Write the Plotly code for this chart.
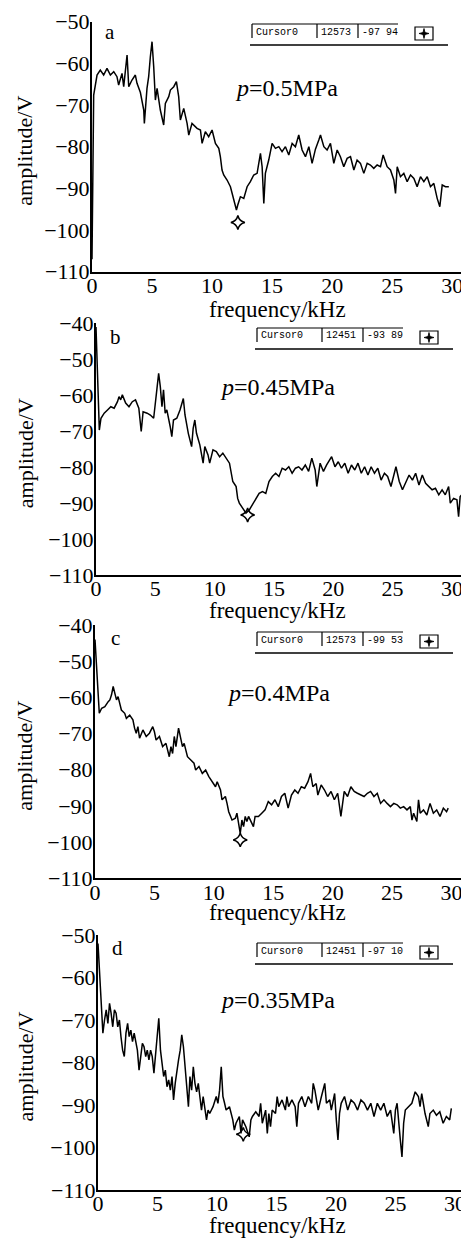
import plotly.graph_objects as go

# the page body has an 8px margin, so the figure is drawn 8px smaller and every
# pixel position read off the reference is shifted by that margin
PAGE_W, PAGE_H = 469, 1238
OFF = 8
W, H = PAGE_W - OFF, PAGE_H - OFF

# ---- data (frequency in kHz, amplitude in V) ----
freq_a = [0.0, 0.14, 0.42, 0.69, 0.97, 1.25, 1.53, 1.81, 2.08, 2.22, 2.50, 2.64, 2.92, 3.06, 3.33, 3.61, 3.75,
          4.03, 4.31, 4.36, 4.58, 4.72, 4.86, 5.00, 5.14, 5.28, 5.42, 5.69, 5.97, 6.11, 6.39, 6.53, 6.81,
          7.03, 7.22, 7.36, 7.64, 7.92, 8.06, 8.33, 8.75, 9.03, 9.17, 9.44, 9.72, 10.00, 10.28, 10.56,
          10.69, 10.83, 10.97, 11.25, 11.53, 11.81, 12.03, 12.14, 12.36, 12.64, 12.92, 13.19, 13.47,
          13.75, 13.89, 14.03, 14.17, 14.31, 14.44, 14.72, 15.00, 15.28, 15.56, 15.83, 16.11, 16.39,
          16.67, 16.94, 17.22, 17.50, 17.78, 18.06, 18.33, 18.61, 18.89, 19.03, 19.31, 19.58, 19.86,
          20.14, 20.42, 20.69, 20.97, 21.25, 21.53, 21.81, 22.08, 22.36, 22.64, 22.92, 23.19, 23.47,
          23.75, 24.03, 24.25, 24.58, 24.86, 25.14, 25.28, 25.42, 25.69, 25.97, 26.25, 26.53, 26.81,
          27.08, 27.36, 27.64, 27.92, 28.19, 28.47, 28.75, 28.97, 29.17, 29.44, 29.72]
amp_a = [-107.0, -67.6, -62.8, -61.6, -62.8, -61.2, -62.8, -62.0, -63.2, -65.2, -62.4, -65.6, -58.0, -65.6,
         -64.0, -62.8, -64.8, -67.0, -71.2, -74.4, -66.0, -63.2, -58.4, -54.8, -60.8, -68.8, -66.0,
         -71.2, -74.8, -69.6, -68.0, -66.4, -65.6, -64.4, -68.0, -73.6, -70.8, -74.4, -77.2, -74.4,
         -75.6, -76.0, -79.2, -76.4, -77.6, -76.0, -79.2, -80.4, -82.4, -85.6, -86.8, -88.0, -89.6,
         -92.8, -95.2, -94.0, -92.0, -92.4, -89.6, -88.4, -86.8, -86.4, -84.0, -81.6, -84.8, -93.6,
         -86.4, -83.2, -79.2, -80.4, -80.0, -81.2, -80.0, -82.0, -79.2, -80.0, -77.2, -80.8, -82.4,
         -80.0, -84.0, -80.6, -78.4, -77.2, -80.0, -80.8, -79.2, -84.0, -80.8, -82.4, -84.8, -82.8,
         -82.4, -85.6, -83.2, -84.0, -86.4, -84.0, -84.4, -85.2, -84.4, -84.8, -82.0, -84.8, -85.6,
         -88.0, -91.2, -84.8, -87.2, -86.4, -88.4, -86.8, -87.6, -89.6, -87.2, -88.4, -87.2, -89.6,
         -88.8, -92.4, -94.4, -89.2, -89.6, -89.6]

freq_b = [0.0, 0.28, 0.42, 0.69, 0.97, 1.25, 1.53, 1.81, 1.94, 2.08, 2.22, 2.50, 2.78, 3.06, 3.33, 3.61, 3.81,
          3.97, 4.31, 4.58, 4.86, 5.00, 5.14, 5.28, 5.42, 5.56, 5.69, 5.83, 5.97, 6.25, 6.39, 6.53,
          6.81, 7.08, 7.36, 7.50, 7.78, 8.06, 8.19, 8.33, 8.47, 8.75, 8.89, 9.03, 9.17, 9.44, 9.58,
          9.86, 10.14, 10.42, 10.69, 10.97, 11.25, 11.53, 11.81, 11.94, 12.08, 12.36, 12.64, 12.92,
          13.19, 13.47, 13.75, 14.03, 14.31, 14.58, 14.86, 15.14, 15.42, 15.69, 15.97, 16.25, 16.53,
          16.81, 17.08, 17.36, 17.64, 17.92, 18.19, 18.47, 18.61, 18.89, 19.17, 19.44, 19.86, 20.14,
          20.42, 20.69, 20.97, 21.25, 21.53, 21.81, 22.08, 22.36, 22.64, 22.92, 23.19, 23.47, 23.75,
          24.03, 24.31, 24.58, 24.86, 25.28, 25.56, 25.83, 26.11, 26.39, 26.67, 26.94, 27.22, 27.50,
          27.78, 28.06, 28.33, 28.61, 28.89, 29.17, 29.44, 29.72, 29.86, 30.14, 30.42, 30.56, 30.69,
          30.83]
amp_b = [-41.0, -69.7, -66.4, -65.0, -64.1, -63.2, -63.6, -61.8, -60.4, -61.3, -59.9, -62.2, -63.2, -61.8,
         -61.3, -63.6, -70.1, -64.6, -65.0, -65.5, -66.4, -61.3, -58.1, -53.9, -57.6, -63.2, -58.5,
         -65.0, -64.1, -68.7, -71.5, -66.9, -66.4, -64.1, -60.9, -65.5, -70.6, -74.3, -69.2, -66.9,
         -70.6, -73.8, -77.1, -78.9, -74.3, -76.6, -78.9, -75.2, -75.7, -77.1, -76.1, -77.5, -78.9,
         -84.0, -85.4, -88.7, -90.0, -91.4, -92.8, -91.9, -90.5, -88.7, -87.3, -86.8, -87.3, -84.0,
         -82.6, -81.7, -82.6, -80.3, -80.8, -79.9, -81.7, -80.3, -79.9, -80.8, -79.4, -81.2, -77.5,
         -80.8, -85.4, -78.9, -81.2, -79.4, -77.1, -79.9, -78.5, -80.3, -78.9, -81.7, -79.4, -80.8,
         -78.9, -81.7, -79.9, -82.2, -79.9, -81.7, -80.3, -83.6, -81.7, -82.6, -85.4, -79.9, -84.0,
         -86.3, -84.0, -82.2, -83.6, -81.7, -85.0, -82.2, -84.5, -85.4, -86.3, -85.9, -87.7, -86.3,
         -87.7, -85.4, -90.0, -88.7, -89.1, -93.8, -88.2, -87.7]

freq_c = [0.0, 0.36, 0.56, 0.83, 1.11, 1.25, 1.39, 1.53, 1.67, 1.81, 1.94, 2.08, 2.22, 2.50, 2.64, 2.92, 3.19,
          3.33, 3.47, 3.61, 3.75, 4.03, 4.31, 4.58, 4.86, 5.00, 5.14, 5.42, 5.69, 5.97, 6.25, 6.39,
          6.53, 6.67, 6.81, 7.03, 7.22, 7.36, 7.50, 7.78, 8.06, 8.33, 8.47, 8.75, 9.03, 9.31, 9.58,
          9.86, 10.14, 10.28, 10.56, 10.69, 10.97, 11.11, 11.25, 11.53, 11.81, 11.94, 12.08, 12.22,
          12.36, 12.50, 12.64, 12.78, 12.92, 13.19, 13.33, 13.47, 13.75, 14.03, 14.31, 14.58, 14.86,
          15.14, 15.42, 15.69, 15.97, 16.25, 16.53, 16.81, 17.08, 17.36, 17.64, 17.92, 18.14, 18.33,
          18.61, 18.75, 19.03, 19.31, 19.58, 19.86, 20.14, 20.42, 20.69, 20.97, 21.25, 21.53, 21.81,
          22.08, 22.36, 22.64, 22.92, 23.19, 23.47, 23.75, 24.03, 24.31, 24.58, 24.86, 25.14, 25.42,
          25.69, 25.97, 26.25, 26.53, 26.67, 26.81, 27.08, 27.22, 27.36, 27.64, 27.92, 28.19, 28.47,
          28.75, 29.03, 29.31, 29.58, 29.72]
amp_c = [-44.0, -64.4, -63.0, -62.6, -61.2, -60.7, -59.3, -57.0, -58.9, -60.7, -59.8, -62.1, -63.5, -64.4,
         -65.8, -64.9, -66.2, -68.5, -69.9, -68.1, -71.3, -69.0, -70.8, -69.9, -68.1, -69.5, -71.8,
         -70.8, -73.6, -72.7, -76.4, -73.6, -75.5, -70.8, -73.6, -68.5, -71.8, -73.6, -72.7, -76.4,
         -77.3, -78.2, -80.1, -79.1, -81.0, -80.1, -81.9, -83.3, -84.7, -83.3, -85.6, -88.3, -87.4,
         -89.3, -91.6, -93.9, -93.4, -92.0, -94.8, -97.6, -93.9, -95.7, -92.9, -94.3, -92.9, -94.8,
         -95.7, -92.9, -92.9, -92.0, -91.1, -88.8, -89.7, -88.3, -90.2, -87.4, -86.5, -90.6, -87.0,
         -85.6, -86.5, -84.7, -85.1, -83.3, -81.0, -84.7, -83.8, -87.0, -84.2, -85.6, -87.4, -86.0,
         -88.3, -86.5, -92.9, -86.0, -87.4, -84.7, -86.0, -86.5, -87.0, -87.4, -86.5, -86.0, -87.4,
         -86.5, -89.3, -88.3, -89.3, -90.2, -89.3, -89.7, -90.6, -90.2, -91.1, -90.2, -93.9, -92.0,
         -94.3, -88.3, -92.0, -91.1, -92.5, -89.3, -92.0, -91.1, -92.9, -90.6, -91.6, -90.6]

freq_d = [0.0, 0.41, 0.55, 0.69, 0.83, 0.97, 1.10, 1.24, 1.38, 1.52, 1.66, 1.80, 1.93, 2.07, 2.21, 2.35, 2.49,
          2.62, 2.76, 2.90, 3.04, 3.18, 3.31, 3.45, 3.59, 3.73, 3.87, 4.01, 4.14, 4.28, 4.42, 4.56,
          4.70, 4.83, 4.97, 5.11, 5.25, 5.39, 5.52, 5.66, 5.80, 5.94, 6.08, 6.22, 6.35, 6.49, 6.63,
          6.77, 6.91, 7.04, 7.18, 7.32, 7.46, 7.60, 7.73, 7.87, 8.01, 8.15, 8.29, 8.43, 8.56, 8.70,
          8.84, 8.98, 9.12, 9.25, 9.39, 9.67, 9.94, 10.08, 10.22, 10.36, 10.50, 10.64, 10.77, 11.05,
          11.33, 11.46, 11.60, 11.88, 12.02, 12.15, 12.43, 12.71, 12.85, 12.98, 13.26, 13.54, 13.67,
          13.81, 14.09, 14.23, 14.36, 14.50, 14.64, 14.92, 15.06, 15.19, 15.47, 15.75, 15.88, 16.02,
          16.30, 16.57, 16.71, 16.85, 17.13, 17.40, 17.68, 17.96, 18.09, 18.23, 18.51, 18.78, 19.06,
          19.20, 19.48, 19.61, 19.89, 20.03, 20.17, 20.30, 20.44, 20.72, 20.99, 21.27, 21.55, 21.82,
          22.10, 22.38, 22.65, 22.93, 23.20, 23.48, 23.76, 24.03, 24.31, 24.59, 24.86, 25.00, 25.14,
          25.41, 25.55, 25.69, 25.83, 26.10, 26.38, 26.66, 26.93, 27.07, 27.21, 27.49, 27.76, 27.90,
          28.18, 28.45, 28.73, 29.01, 29.28, 29.56, 29.70]
amp_d = [-52.0, -73.1, -70.0, -67.6, -70.8, -66.1, -68.4, -71.6, -67.6, -68.4, -71.6, -70.0, -73.9, -77.1,
         -78.6, -73.1, -70.8, -73.9, -72.4, -75.1, -73.1, -75.5, -77.1, -81.8, -77.8, -75.5, -76.3,
         -78.6, -77.1, -79.4, -77.1, -78.6, -82.5, -78.6, -74.7, -69.6, -77.1, -80.2, -83.3, -81.8,
         -85.7, -84.1, -86.5, -83.3, -88.8, -84.9, -81.8, -79.4, -77.1, -73.5, -76.3, -81.0, -84.9,
         -90.4, -83.3, -86.5, -81.0, -84.9, -86.9, -84.9, -88.0, -91.2, -88.0, -90.4, -93.5, -91.2,
         -92.0, -90.4, -88.0, -89.6, -86.5, -81.0, -88.0, -89.6, -91.2, -90.4, -93.5, -95.9, -94.3,
         -92.7, -96.7, -93.5, -95.1, -97.5, -93.5, -92.7, -91.6, -92.7, -89.6, -94.3, -91.2, -96.7,
         -92.0, -95.1, -91.2, -92.0, -88.0, -90.4, -88.8, -91.2, -88.0, -90.4, -88.8, -90.4, -95.1,
         -89.6, -88.0, -90.4, -88.0, -89.6, -84.9, -86.5, -91.2, -88.0, -84.9, -89.6, -88.8, -91.2,
         -87.3, -93.5, -98.2, -92.0, -89.6, -88.0, -91.2, -88.8, -89.6, -91.2, -88.8, -89.6, -91.2,
         -89.6, -92.7, -89.6, -91.2, -89.6, -92.7, -91.2, -96.7, -91.2, -89.6, -98.2, -102.2, -94.3,
         -91.2, -90.4, -89.6, -86.9, -88.0, -90.4, -87.3, -92.0, -95.1, -92.0, -91.2, -92.4, -91.6,
         -94.3, -92.7, -93.5, -90.8]

# cursor positions and the readout boxes
cursor_freq = [12.15, 12.78, 12.22, 12.21]
cursor_amp = [-98.2, -93.3, -99.4, -96.9]
cursor_hz = ["12573", "12451", "12573", "12451"]
cursor_val = ["-97 94", "-93 89", "-99 53", "-97 10"]
letters = ["a", "b", "c", "d"]
pressures = ["0.5MPa", "0.45MPa", "0.4MPa", "0.35MPa"]
y_tops = [-50, -40, -40, -50]

freqs = [freq_a, freq_b, freq_c, freq_d]
amps = [amp_a, amp_b, amp_c, amp_d]

# panel geometry in page pixels: axis left, axis right end, plot top, plot bottom, x max
panels = [
    dict(left=92, right=469, top=21.7, bottom=271.7, xmax=31.4),
    dict(left=96, right=465, top=323.3, bottom=575, xmax=31.1),
    dict(left=95, right=467, top=625, bottom=878.3, xmax=31.3),
    dict(left=98, right=468, top=935, bottom=1190, xmax=31.1),
]
freq_title_y = [309, 610, 913, 1225]
letter_pos = [(110, 32), (115, 337), (115, 638), (117, 948)]
p_pos = [(233, 88), (218, 387), (225, 693), (218, 1000)]
cursor_pos = [(252, 24), (257, 328), (257, 632), (257, 943)]


def fx(px):
    return (px - OFF) / W


def fy(py):
    return 1 - (py - OFF) / H


SERIF = "Liberation Serif"
fig = go.Figure()
annotations = []
shapes = []

for i in range(4):
    g = panels[i]
    xa = "x" if i == 0 else "x%d" % (i + 1)
    ya = "y" if i == 0 else "y%d" % (i + 1)
    fig.add_trace(go.Scatter(x=freqs[i], y=amps[i], mode="lines", xaxis=xa, yaxis=ya,
                             line=dict(color="black", width=1.5), showlegend=False))
    fig.add_trace(go.Scatter(x=[cursor_freq[i]], y=[cursor_amp[i]], mode="markers", xaxis=xa, yaxis=ya,
                             marker=dict(symbol="star-diamond-open", size=10, color="black",
                                         line=dict(color="black", width=1.5)),
                             showlegend=False))

    axis_common = dict(showline=True, linecolor="black", linewidth=2, showgrid=False, zeroline=False,
                       ticks="", automargin=False, fixedrange=True,
                       tickfont=dict(family=SERIF, size=22, color="black"))
    xname = "xaxis" if i == 0 else "xaxis%d" % (i + 1)
    yname = "yaxis" if i == 0 else "yaxis%d" % (i + 1)
    fig.update_layout(**{
        xname: dict(axis_common, domain=[fx(g["left"]), min(1, fx(g["right"]))], range=[0, g["xmax"]],
                    tickvals=[0, 5, 10, 15, 20, 25, 30], anchor=ya, ticklabelstandoff=-7),
        yname: dict(axis_common, domain=[fy(g["bottom"]), fy(g["top"])], range=[-110, y_tops[i]],
                    dtick=10, anchor=xa, ticklabelstandoff=-4),
    })

    mid = (g["top"] + g["bottom"]) / 2 + 4
    annotations.append(dict(text="amplitude/V", x=fx(25), y=fy(mid), xref="paper", yref="paper",
                            textangle=-90, showarrow=False, xanchor="center", yanchor="middle",
                            font=dict(family=SERIF, size=22, color="black")))
    annotations.append(dict(text="frequency/kHz", x=fx(277), y=fy(freq_title_y[i]), xref="paper",
                            yref="paper", showarrow=False, xanchor="center", yanchor="middle",
                            font=dict(family=SERIF, size=23, color="black")))
    lx, ly = letter_pos[i]
    annotations.append(dict(text=letters[i], x=fx(lx), y=fy(ly), xref="paper", yref="paper",
                            showarrow=False, xanchor="center", yanchor="middle",
                            font=dict(family=SERIF, size=21, color="black")))
    px_, py_ = p_pos[i]
    annotations.append(dict(text="<i>p</i>=" + pressures[i], x=fx(px_), y=fy(py_), xref="paper",
                            yref="paper", showarrow=False, xanchor="left", yanchor="middle",
                            font=dict(family=SERIF, size=24, color="black")))

    # cursor readout
    x0, y0 = cursor_pos[i]
    mono = dict(family="Liberation Mono", size=10, color="black")
    for tx, txt in [(x0 + 2, "Cursor0"), (x0 + 67, cursor_hz[i]), (x0 + 108, cursor_val[i])]:
        annotations.append(dict(text=txt, x=fx(tx), y=fy(y0 + 8), xref="paper", yref="paper",
                                showarrow=False, xanchor="left", yanchor="middle", font=mono))
    line = dict(color="black", width=1.2)
    shapes.append(dict(type="line", xref="paper", yref="paper", x0=fx(x0), x1=fx(x0 + 146),
                       y0=fy(y0), y1=fy(y0), line=line))
    for vx in [x0, x0 + 65, x0 + 106]:
        shapes.append(dict(type="line", xref="paper", yref="paper", x0=fx(vx), x1=fx(vx),
                           y0=fy(y0), y1=fy(y0 + 14), line=line))
    shapes.append(dict(type="line", xref="paper", yref="paper", x0=fx(x0 - 2), x1=fx(x0 + 196),
                       y0=fy(y0 + 21), y1=fy(y0 + 21), line=dict(color="black", width=1.5)))
    shapes.append(dict(type="rect", xref="paper", yref="paper", x0=fx(x0 + 163), x1=fx(x0 + 181),
                       y0=fy(y0 + 3), y1=fy(y0 + 16), line=line))
    cx, cy = x0 + 172, y0 + 9.5
    pts = [(cx - 5, cy), (cx - 1, cy - 1), (cx, cy - 5), (cx + 1, cy - 1),
           (cx + 5, cy), (cx + 1, cy + 1), (cx, cy + 5), (cx - 1, cy + 1)]
    path = "M " + " L ".join("%.5f,%.5f" % (fx(a), fy(b)) for a, b in pts) + " Z"
    shapes.append(dict(type="path", xref="paper", yref="paper", path=path,
                       fillcolor="black", line=dict(color="black", width=0.8)))

fig.update_layout(width=W, height=H, margin=dict(l=0, r=0, t=0, b=0),
                  paper_bgcolor="white", plot_bgcolor="white",
                  annotations=annotations, shapes=shapes, showlegend=False)

fig.write_html("out.html", config={"displayModeBar": False})
